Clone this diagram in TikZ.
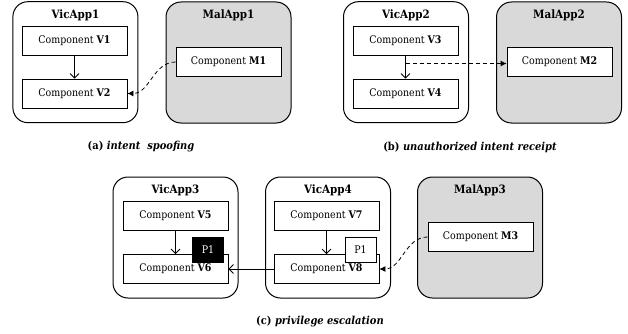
\documentclass[tikz,border=0pt]{standalone}
\usepackage{fontspec}
\setmainfont{DejaVu Serif Condensed}
\usetikzlibrary{arrows.meta}
\definecolor{malgray}{HTML}{D9D9D9}
\tikzset{
  app/.style={draw, line width=1pt, rounded corners=15pt, minimum width=125pt, minimum height=121pt, inner sep=0pt},
  vicapp/.style={app, fill=white},
  malapp/.style={app, fill=malgray},
  apptitle/.style={font=\fontsize{11.5}{14}\selectfont\bfseries, inner sep=0pt},
  comp/.style={draw, line width=0.8pt, fill=white, minimum width=105pt, minimum height=29pt, inner sep=0pt, font=\fontsize{10.5}{13}\selectfont},
  perm/.style={draw, line width=0.8pt, minimum width=31pt, minimum height=25pt, inner sep=0pt, font=\fontsize{10.5}{13}\selectfont},
  flow/.style={line width=0.8pt, -{Straight Barb[length=4.5pt,width=9pt]}},
  evil/.style={line width=0.8pt, dashed, dash pattern=on 4pt off 3pt, -{Latex[length=6pt,width=6pt]}},
  subcap/.style={font=\fontsize{11}{14}\selectfont\bfseries, inner sep=0pt}
}
\begin{document}
\begin{tikzpicture}[x=1pt,y=-1pt]
\useasboundingbox (0,0) rectangle (628,334);
% (a)
\node[vicapp] (va1) at (75.4,62.2) {};
\node[malapp] (ma1) at (228.5,62.5) {};
\node[apptitle] (tva1) at (75.4,15) {VicApp1};
\node[apptitle] (tma1) at (228.5,15) {MalApp1};
\node[comp] (v1) at (74.5,41) {Component \textbf{V1}};
\node[comp] (v2) at (74.5,93.5) {Component \textbf{V2}};
\node[comp] (m1) at (228.5,62) {Component \textbf{M1}};
\draw[flow] (v1) -- (v2);
\draw[evil] (m1.west) to[out=180,in=0] (v2.east);
\node[subcap] (ca) at (141,147) {(a) \textit{intent\ \ spoofing}};
% (b)
\node[vicapp] (va2) at (406,62.2) {};
\node[malapp] (ma2) at (559,62.5) {};
\node[apptitle] (tva2) at (406,15) {VicApp2};
\node[apptitle] (tma2) at (559,15) {MalApp2};
\node[comp] (v3) at (405.5,41) {Component \textbf{V3}};
\node[comp] (v4) at (405.5,93.5) {Component \textbf{V4}};
\node[comp] (m2) at (559.5,62) {Component \textbf{M2}};
\draw[flow] (v3) -- (v4);
\coordinate (br) at (405.5,63.5);
\draw[evil] (br) -- (br -| m2.west);
\node[subcap] (cb) at (470,147) {(b) \textit{unauthorized intent receipt}};
% (c)
\node[vicapp] (va3) at (175.5,237.5) {};
\node[vicapp] (va4) at (328,237.5) {};
\node[malapp] (ma3) at (480,237.5) {};
\node[apptitle] (tva3) at (175.5,190) {VicApp3};
\node[apptitle] (tva4) at (328,190) {VicApp4};
\node[apptitle] (tma3) at (480,190) {MalApp3};
\node[comp] (v5) at (175.5,216) {Component \textbf{V5}};
\node[comp] (v6) at (175.5,269) {\raisebox{-1pt}{Component \textbf{V6}}};
\node[comp] (v7) at (326.5,216) {Component \textbf{V7}};
\node[comp] (v8) at (326.5,269) {\raisebox{-1pt}{Component \textbf{V8}}};
\node[comp] (m3) at (480.5,237) {Component \textbf{M3}};
\draw[flow] (v5) -- (v6);
\draw[flow] (v7) -- (v8);
\draw[flow] (v8) -- (v6);
\draw[evil] (m3.west) to[out=180,in=0] (v8.east);
\node[perm, fill=black, text=white] (p1a) at (208,249.5) {P1};
\node[perm, fill=white] (p1b) at (360.5,249.5) {P1};
\node[subcap] (cc) at (320,322) {(c) \textit{privilege escalation}};
\end{tikzpicture}
\end{document}
